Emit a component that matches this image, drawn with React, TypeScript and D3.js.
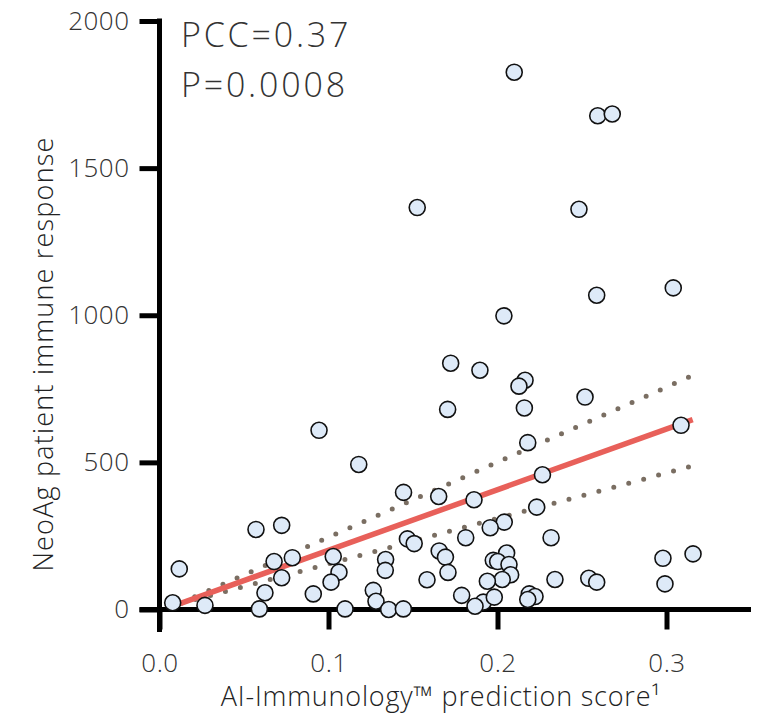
import * as d3 from "d3";
import { useEffect, useRef } from "react";

// prediction score (x) and immune response (y) of every neoantigen
const scores = [
    0.0078, 0.0117, 0.0269, 0.0571, 0.0723, 0.0591, 0.0624, 0.0678, 0.0723, 0.0786,
    0.0910, 0.1028, 0.1062, 0.1015, 0.1098, 0.1444, 0.1652, 0.1467, 0.1507, 0.1338,
    0.1336, 0.1265, 0.1281, 0.1356, 0.1443, 0.1583, 0.1655, 0.1692, 0.1707, 0.1861,
    0.2266, 0.2232, 0.2040, 0.1957, 0.2317, 0.1812, 0.2054, 0.1975, 0.2001, 0.2068,
    0.2078, 0.2028, 0.1940, 0.2340, 0.2540, 0.2587, 0.2979, 0.3157, 0.2991, 0.1788,
    0.1916, 0.1867, 0.1981, 0.2188, 0.2222, 0.2179, 0.0944, 0.1179, 0.1723, 0.1896,
    0.2163, 0.2127, 0.1705, 0.2159, 0.2518, 0.2179, 0.3086, 0.2099, 0.2593, 0.2679,
    0.1525, 0.2482, 0.2587, 0.3040, 0.2038
];
const responses = [
    23, 138, 14, 272, 286, 2, 57, 163, 108, 176,
    53, 180, 127, 93, 2, 398, 384, 240, 224, 170,
    133, 65, 28, 0, 2, 101, 199, 178, 126, 373,
    458, 348, 297, 278, 244, 244, 192, 167, 163, 153,
    118, 102, 96, 102, 106, 93, 174, 189, 87, 48,
    25, 11, 42, 53, 44, 34, 609, 493, 837, 813,
    779, 759, 680, 685, 722, 567, 626, 1826, 1678, 1684,
    1366, 1360, 1068, 1093, 998
];

// линия регрессии и границы доверительного интервала
const fitX = [0.0125, 0.3155];
const fitY = [21, 645];
const bandX = [0.0125, 0.313];
const bandUpper = [22, 789];
const bandLower = [20, 484];

const xTicks = [0, 0.1, 0.2, 0.3];
const yTicks = [0, 500, 1000, 1500, 2000];

const annotations = ["PCC=0.37", "P=0.0008"];
const xTitle = "AI-Immunology™ prediction score¹";
const yTitle = "NeoAg patient immune response";

const FONT = "'Open Sans', Inter, sans-serif";

const App = () => {
    const chartRef = useRef<SVGSVGElement>(null);

    const width = 757;
    const height = 715;
    const margin = { top: 21, left: 159.5, right: 6, bottom: 105.5 };

    useEffect(() => {
        const svg = d3.select(chartRef.current);
        svg.selectAll("*").remove();

        const scaleX = d3.scaleLinear().domain([0, 0.35]).range([margin.left, width - margin.right]);
        const scaleY = d3.scaleLinear().domain([0, 2000]).range([height - margin.bottom, margin.top]);

        // оси
        const yAxis = d3.axisLeft(scaleY)
            .tickValues(yTicks)
            .tickSize(20)
            .tickSizeOuter(0)
            .tickPadding(10)
            .tickFormat(d3.format("d"));
        const gy = svg.append("g")
            .attr("transform", `translate(${margin.left},0)`)
            .call(yAxis);

        const xAxis = d3.axisBottom(scaleX)
            .tickValues(xTicks)
            .tickSize(20)
            .tickSizeOuter(0)
            .tickPadding(24)
            .tickFormat(d3.format(".1f"));
        const gx = svg.append("g")
            .attr("transform", `translate(0,${scaleY(0)})`)
            .call(xAxis);

        [gx, gy].forEach(g => {
            g.select(".domain").remove();
            g.selectAll("line").attr("stroke", "#000").attr("stroke-width", 5);
            g.selectAll("text")
                .attr("fill", "#333")
                .style("font-family", FONT)
                .style("font-size", "26px")
                .style("font-weight", 300)
                .style("letter-spacing", "0.5px");
        });

        // линии осей
        svg.append("line")
            .attr("x1", scaleX(0)).attr("x2", scaleX(0))
            .attr("y1", scaleY(2000)).attr("y2", scaleY(0) + 20)
            .attr("stroke", "#000").attr("stroke-width", 5)
            .attr("stroke-linecap", "square");
        svg.append("line")
            .attr("x1", scaleX(0) - 20).attr("x2", scaleX(0.35))
            .attr("y1", scaleY(0)).attr("y2", scaleY(0))
            .attr("stroke", "#000").attr("stroke-width", 5);

        // доверительный интервал
        const lineGen = d3.line<[number, number]>()
            .x(d => scaleX(d[0]))
            .y(d => scaleY(d[1]));

        [bandUpper, bandLower].forEach(band => {
            const p = svg.append("path")
                .attr("d", lineGen(bandX.map((x, i) => [x, band[i]] as [number, number])))
                .attr("fill", "none")
                .attr("stroke", "#7a6e62")
                .attr("stroke-width", 5)
                .attr("stroke-linecap", "round");
            // шаг точек подгоняем так, чтобы последняя точка легла на конец линии
            const len = (p.node() as SVGPathElement).getTotalLength();
            const step = len / Math.round(len / 15.5);
            p.attr("stroke-dasharray", `0 ${step}`);
        });

        // регрессия
        svg.append("path")
            .attr("d", lineGen(fitX.map((x, i) => [x, fitY[i]] as [number, number])))
            .attr("fill", "none")
            .attr("stroke", "#e8605a")
            .attr("stroke-width", 5.5);

        // точки
        svg.selectAll(".dot")
            .data(scores.map((s, i) => [s, responses[i]]))
            .enter()
            .append("circle")
            .attr("class", "dot")
            .attr("cx", d => scaleX(d[0]))
            .attr("cy", d => scaleY(d[1]))
            .attr("r", 8)
            .attr("fill", "#deeaf8")
            .attr("stroke", "#111")
            .attr("stroke-width", 1.6);

        // подписи
        svg.selectAll(".note")
            .data(annotations)
            .enter()
            .append("text")
            .attr("class", "note")
            .attr("x", 181)
            .attr("y", (d, i) => 47 + i * 50)
            .attr("fill", "#333")
            .style("font-family", FONT)
            .style("font-size", "34px")
            .style("font-weight", 300)
            .style("letter-spacing", "2.8px")
            .text(d => d);

        svg.append("text")
            .attr("x", 441)
            .attr("y", 706)
            .attr("text-anchor", "middle")
            .attr("fill", "#222")
            .style("font-family", FONT)
            .style("font-size", "27px")
            .style("font-weight", 300)
            .style("letter-spacing", "0.8px")
            .text(xTitle);

        svg.append("text")
            .attr("transform", `translate(53,354) rotate(-90)`)
            .attr("text-anchor", "middle")
            .attr("fill", "#222")
            .style("font-family", FONT)
            .style("font-size", "27px")
            .style("font-weight", 300)
            .style("letter-spacing", "1.2px")
            .text(yTitle);
    }, []);

    return (
        <svg
            ref={chartRef}
            width={width}
            height={height}
            style={{ position: "absolute", left: 0, top: 0, background: "#fff" }}
        ></svg>
    );
};

export default App;
